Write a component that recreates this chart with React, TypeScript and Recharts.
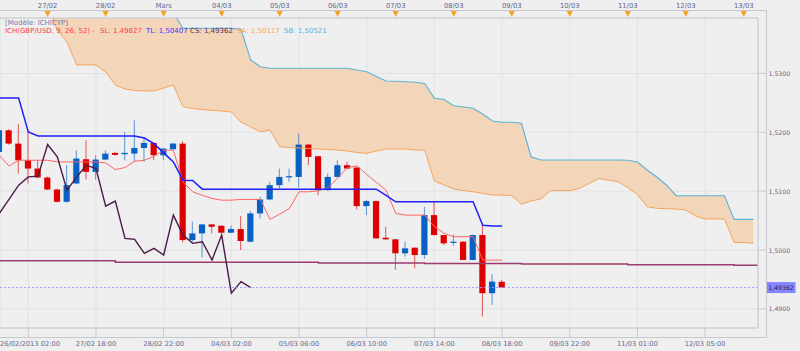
import React from 'react';
import {
  ComposedChart,
  XAxis,
  YAxis,
  CartesianGrid,
  Line,
  Area,
  Bar,
  ReferenceLine,
} from 'recharts';

const FONT = '"DejaVu Sans", Verdana, sans-serif';
const TEXT = '#66668c';
const FRAME = '#c6c8d0';
const GRID = '#e2e2e4';
const BG = '#efefef';
const RED = '#dc0000';
const BLUE = '#0862c4';

// ---- candles (4h bars, index 0..52) ----
const opens = [
  1.51667, 1.52034, 1.51808, 1.51525, 1.51384, 1.51232, 1.51028, 1.50819, 1.5113, 1.51542,
  1.51328, 1.51537, 1.5165, 1.51627, 1.51638, 1.51734, 1.51819, 1.5161, 1.51712, 1.51808,
  1.50169, 1.50282, 1.50435, 1.50412, 1.50294, 1.50356, 1.50141, 1.50622, 1.50859, 1.51102,
  1.51242, 1.51242, 1.51791, 1.51593, 1.51017, 1.51242, 1.51441, 1.51401, 1.50746, 1.50831,
  1.50209, 1.50181, 1.49944, 1.50039, 1.49915, 1.50593, 1.50254, 1.50124, 1.50141, 1.49831,
  1.50254, 1.49266, 1.4946,
];
const highs = [
  1.5206, 1.5205, 1.52147, 1.52034, 1.51525, 1.5125, 1.5104, 1.51441, 1.51695, 1.51864,
  1.5161, 1.51695, 1.5166, 1.52005, 1.52203, 1.51921, 1.5183, 1.5173, 1.5182, 1.51847,
  1.5048, 1.5044, 1.50445, 1.5042, 1.50412, 1.50576, 1.50661, 1.50904, 1.51158, 1.51384,
  1.51384, 1.51977, 1.518, 1.516, 1.513, 1.51525, 1.515, 1.5141, 1.5085, 1.5084,
  1.50395, 1.5019, 1.50141, 1.50045, 1.50734, 1.50819, 1.5026, 1.50266, 1.5015, 1.50266,
  1.50457, 1.4959, 1.49492,
];
const lows = [
  1.5163, 1.5179, 1.513, 1.5113, 1.5122, 1.5102, 1.5081, 1.50805, 1.51115, 1.51198,
  1.51198, 1.5153, 1.51605, 1.51525, 1.51497, 1.51497, 1.51525, 1.51525, 1.517, 1.5013,
  1.50141, 1.49876, 1.50282, 1.50285, 1.50285, 1.5, 1.5013, 1.50537, 1.5085, 1.51045,
  1.51158, 1.51062, 1.51441, 1.50932, 1.5101, 1.51235, 1.51375, 1.50689, 1.50593, 1.5019,
  1.50175, 1.49661, 1.49887, 1.49689, 1.4985, 1.5025, 1.50085, 1.50073, 1.49825, 1.49825,
  1.4887, 1.49068, 1.49355,
];
const closes = [
  1.52034, 1.51808, 1.51525, 1.51384, 1.51232, 1.51028, 1.50819, 1.51102, 1.51554, 1.51328,
  1.51537, 1.51638, 1.51616, 1.5165, 1.51734, 1.51819, 1.5161, 1.51723, 1.51808, 1.50169,
  1.50282, 1.50435, 1.50395, 1.50294, 1.50356, 1.50153, 1.50622, 1.50859, 1.51102, 1.51242,
  1.51254, 1.51791, 1.51582, 1.51017, 1.51242, 1.51441, 1.51384, 1.50746, 1.50831, 1.50198,
  1.50181, 1.49944, 1.50028, 1.49915, 1.50593, 1.50254, 1.50113, 1.50141, 1.49831, 1.50254,
  1.49266, 1.49463, 1.49362,
];

// ---- Ichimoku lines ----
const tenkanSL = [
  1.5161, 1.51424, 1.51525, 1.51525, 1.51525, 1.51525, 1.51497, 1.51497, 1.51497, 1.51497,
  1.51497, 1.5148, 1.51367, 1.51401, 1.51508, 1.51525, 1.51593, 1.51695, 1.51695, 1.51158,
  1.50989, 1.5093, 1.50876, 1.50847, 1.50847, 1.50859, 1.50859, 1.50859, 1.5052, 1.5061,
  1.50706, 1.50989, 1.50989, 1.51006, 1.5106, 1.5122, 1.514, 1.5143, 1.51283, 1.5115,
  1.51017, 1.50622, 1.50593, 1.50593, 1.50593, 1.504, 1.50282, 1.50226, 1.50226, 1.50226,
  1.49831, 1.49827, 1.49827,
];
const kijunTL = [
  1.52581, 1.52581, 1.52581, 1.52005, 1.51937, 1.51937, 1.51937, 1.51937, 1.51937, 1.51937,
  1.51937, 1.51937, 1.51937, 1.51937, 1.51937, 1.51903, 1.51808, 1.5165, 1.51497, 1.51186,
  1.5118, 1.51034, 1.51034, 1.51034, 1.51034, 1.51034, 1.51034, 1.51034, 1.51034, 1.51034,
  1.51034, 1.51034, 1.51034, 1.51034, 1.51034, 1.51034, 1.51034, 1.51034, 1.51034, 1.51034,
  1.5093, 1.50819, 1.50819, 1.50819, 1.50819, 1.50819, 1.50819, 1.50819, 1.50819, 1.50819,
  1.5042, 1.50407, 1.50407,
];
const chikouCS = [
  1.50622, 1.50859, 1.51102, 1.51242, 1.51254, 1.51791, 1.51582, 1.51017, 1.51242, 1.51441,
  1.51384, 1.50746, 1.50831, 1.50198, 1.50181, 1.49944, 1.50028, 1.49915, 1.50593, 1.50254,
  1.50113, 1.50141, 1.49831, 1.50254, 1.49266, 1.49463, 1.49362,
];
const senkouSA = [
  1.545, 1.545, 1.5445, 1.544, 1.543, 1.5413, 1.53738, 1.53534, 1.53144, 1.53144,
  1.53144, 1.53025, 1.52804, 1.52736, 1.5271, 1.52702, 1.52702, 1.52753, 1.52804, 1.52435,
  1.52404, 1.52387, 1.52374, 1.52362, 1.52345, 1.52175, 1.5209, 1.5201, 1.52039, 1.51755,
  1.51742, 1.51733, 1.51725, 1.51716, 1.51708, 1.51699, 1.51682, 1.51657, 1.51643, 1.51682,
  1.51716, 1.51716, 1.51716, 1.51699, 1.51699, 1.51172, 1.51105, 1.51037, 1.51011, 1.50991,
  1.5096, 1.50935, 1.50935, 1.50923, 1.50777, 1.50833, 1.50867, 1.51008, 1.51008, 1.51008,
  1.51048, 1.5113, 1.51215, 1.51189, 1.51161, 1.51062, 1.50943, 1.50736, 1.50709, 1.50702,
  1.50697, 1.5068, 1.50578, 1.50527, 1.50527, 1.50527, 1.50131, 1.50127, 1.50117,
];
const senkouSB = [
  1.546, 1.546, 1.546, 1.546, 1.546, 1.546, 1.546, 1.546, 1.546, 1.546,
  1.546, 1.546, 1.546, 1.546, 1.546, 1.546, 1.546, 1.544, 1.5403, 1.53767,
  1.53767, 1.53767, 1.53767, 1.53767, 1.53767, 1.5375, 1.53229, 1.53115, 1.53087, 1.53087,
  1.53087, 1.53087, 1.53087, 1.53087, 1.53087, 1.53087, 1.53087, 1.53059, 1.5303, 1.52948,
  1.52872, 1.52867, 1.52858, 1.5285, 1.5283, 1.52578, 1.52557, 1.52452, 1.5243, 1.52408,
  1.52311, 1.52192, 1.5217, 1.5217, 1.52153, 1.51585, 1.51529, 1.51529, 1.51529, 1.51529,
  1.51529, 1.51529, 1.51529, 1.51529, 1.51529, 1.51524, 1.51495, 1.51359, 1.5124, 1.51105,
  1.50923, 1.50923, 1.50923, 1.50923, 1.50923, 1.50923, 1.50521, 1.50521, 1.50521,
];
// long horizontal maroon level line
const levelLine = [
  1.49818, 1.49818, 1.49818, 1.49818, 1.49818, 1.49818, 1.49818, 1.49818, 1.49818, 1.49818,
  1.49818, 1.49818, 1.4979, 1.4979, 1.4979, 1.4979, 1.4979, 1.4979, 1.4979, 1.4979,
  1.4979, 1.4979, 1.4979, 1.4979, 1.4979, 1.4979, 1.4979, 1.4979, 1.4979, 1.4979,
  1.4979, 1.4979, 1.4979, 1.49779, 1.49779, 1.49779, 1.49779, 1.49779, 1.49779, 1.49779,
  1.49779, 1.49779, 1.49779, 1.49779, 1.49771, 1.49771, 1.49771, 1.49771, 1.49771, 1.49771,
  1.49771, 1.49771, 1.49771, 1.49771, 1.49762, 1.49762, 1.49762, 1.49762, 1.49762, 1.49762,
  1.49762, 1.49762, 1.49762, 1.49762, 1.49762, 1.49751, 1.49751, 1.49751, 1.49751, 1.49751,
  1.49751, 1.49751, 1.49751, 1.49751, 1.49751, 1.49751, 1.49741, 1.49741, 1.49741, 1.49741,
];

// ---- axes / labels ----
const bottomTickIdx = [3, 10, 17, 24, 31, 38, 45, 52, 59, 66, 73];
const bottomTickLabels = [
  '26/02/2013 02:00', '27/02 18:00', '28/02 22:00', '04/03 02:00', '05/03 06:00', '06/03 10:00',
  '07/03 14:00', '08/03 18:00', '09/03 22:00', '11/03 01:00', '12/03 05:00',
];
const topTickIdx = [5, 11, 17, 23, 29, 35, 41, 47, 53, 59, 65, 71, 77];
const topTickLabels = [
  '27/02', '28/02', 'Mars', '04/03', '05/03', '06/03', '07/03', '08/03', '09/03', '10/03', '11/03', '12/03', '13/03',
];
const priceTicks = [1.49, 1.5, 1.51, 1.52, 1.53];
const priceTickLabels = ['1,4900', '1,5000', '1,5100', '1,5200', '1,5300'];
const lastPrice = 1.49362;
const lastPriceLabel = '1,49362';

const legendTitle = '[Modèle: ICHICYP]';
const legendItems = [
  { text: 'ICH(GBP/USD, 9, 26, 52) -', color: '#ff3c3c', x: 5 },
  { text: 'SL: 1,49827', color: '#ff3c3c', x: 100 },
  { text: 'TL: 1,50407', color: '#3434ff', x: 146 },
  { text: 'CS: 1,49362', color: '#5a2856', x: 190 },
  { text: 'SA: 1,50117', color: '#f7a55e', x: 237 },
  { text: 'SB: 1,50521', color: '#52b2e0', x: 284 },
];

const X_DOMAIN: [number, number] = [0.072, 78.47];
const Y_DOMAIN: [number, number] = [1.48675, 1.53942];

const rows = levelLine.map((lv, i) => ({
  i,
  o: opens[i] ?? null,
  h: highs[i] ?? null,
  l: lows[i] ?? null,
  c: closes[i] ?? null,
  sl: tenkanSL[i] ?? null,
  tl: kijunTL[i] ?? null,
  cs: chikouCS[i] ?? null,
  sa: senkouSA[i] ?? null,
  sb: senkouSB[i] ?? null,
  lv,
}));

// ruler subdivisions (decoration only)
const ruler = (start: number, step: number, lo: number, hi: number) => {
  const out: number[] = [];
  for (let k = Math.ceil((lo - start) / step); start + k * step <= hi; k++) {
    out.push(+(start + k * step).toFixed(5));
  }
  return out;
};
const bottomMinor = ruler(3, 0.7, 0.1, 78.4);
const topMinor = ruler(5, 0.6, 0.1, 78.4);
const rightMinor = ruler(1.49, 0.001, 1.4869, 1.5393);

const candleRange = (d: any) => (d.h == null ? null : [d.l, d.h]);
const cloudRange = (d: any) => (d.sa == null ? null : [d.sa, d.sb]);

const Candle = (props: any) => {
  const { x, y, width, height, payload } = props;
  if (!payload || payload.o == null || x == null || y == null) return null;
  const top = Math.min(y, y + height);
  const bot = Math.max(y, y + height);
  const span = payload.h - payload.l || 1e-9;
  const px = (v: number) => top + ((payload.h - v) / span) * (bot - top);
  const cx = x + width / 2;
  const up = payload.c >= payload.o;
  const color = up ? BLUE : RED;
  const yo = px(payload.o);
  const yc = px(payload.c);
  const bTop = Math.min(yo, yc);
  const bH = Math.max(1.2, Math.abs(yo - yc));
  return (
    <g>
      <line x1={cx} x2={cx} y1={top} y2={bot} stroke={color} strokeOpacity={0.65} strokeWidth={1} />
      <rect x={cx - 3.1} y={bTop} width={6.2} height={bH} fill={color} />
    </g>
  );
};

const BottomTick = (p: any) => {
  const k = bottomTickIdx.indexOf(p.payload.value);
  if (k < 0) return null;
  const x = p.x;
  return (
    <g>
      <line x1={x} x2={x} y1={328} y2={337} stroke={FRAME} />
      <text
        x={k === 0 ? 0 : x}
        y={344}
        textAnchor={k === 0 ? 'start' : 'middle'}
        dominantBaseline="central"
        fontSize={6.7}
        fontFamily={FONT}
        fill={TEXT}
      >
        {bottomTickLabels[k]}
      </text>
    </g>
  );
};
const BottomMinorTick = (p: any) => (
  <line x1={p.x} x2={p.x} y1={334} y2={337} stroke={FRAME} />
);

const TopTick = (p: any) => {
  const k = topTickIdx.indexOf(p.payload.value);
  if (k < 0) return null;
  const x = p.x;
  return (
    <g>
      <text x={x} y={5.5} textAnchor="middle" dominantBaseline="central" fontSize={6.8} fontFamily={FONT} fill={TEXT}>
        {topTickLabels[k]}
      </text>
      <polygon points={`${x - 3},11 ${x + 3},11 ${x},17`} fill="#f7a41c" />
    </g>
  );
};
const TopMinorTick = (p: any) => (
  <line x1={p.x} x2={p.x} y1={11} y2={13.5} stroke={FRAME} />
);

const PriceTick = (p: any) => {
  const k = priceTicks.findIndex((v) => Math.abs(v - p.payload.value) < 1e-7);
  if (k < 0) return null;
  const y = p.y;
  return (
    <g>
      <line x1={758} x2={766} y1={y} y2={y} stroke={FRAME} />
      <text x={768.5} y={y} dominantBaseline="central" fontSize={6.2} fontFamily={FONT} fill={TEXT}>
        {priceTickLabels[k]}
      </text>
    </g>
  );
};
const RightMinorTick = (p: any) => (
  <line x1={762.5} x2={766} y1={p.y} y2={p.y} stroke={FRAME} />
);

const PriceTag = (props: any) => {
  const vb = props.viewBox || {};
  const y = vb.y ?? 0;
  const x = (vb.x ?? 0) + (vb.width ?? 0) + 9;
  return (
    <g>
      <rect x={x} y={y - 5.5} width={28.5} height={11} fill="#8686ff" />
      <text x={x + 1.2} y={y + 0.3} dominantBaseline="central" fontSize={6.2} fontFamily={FONT} fill="#1a1a66">
        {lastPriceLabel}
      </text>
    </g>
  );
};

// frame rulers + legend, drawn above the chart
const Overlay = () => (
  <svg
    width={800}
    height={351}
    style={{ position: 'absolute', left: 0, top: 0, pointerEvents: 'none' }}
  >
    <line x1={0} y1={10.5} x2={766.5} y2={10.5} stroke={FRAME} />
    <line x1={766.5} y1={10.5} x2={766.5} y2={337.5} stroke={FRAME} />
    <line x1={0} y1={337.5} x2={766.5} y2={337.5} stroke={FRAME} />
    <text x={5} y={22.6} dominantBaseline="central" fontSize={7} fontFamily={FONT} fill="#7676a4">
      {legendTitle}
    </text>
    {legendItems.map((it) => (
      <text key={it.text} x={it.x} y={30.8} dominantBaseline="central" fontSize={7} fontFamily={FONT} fill={it.color}>
        {it.text}
      </text>
    ))}
  </svg>
);

export default function App() {
  return (
    <div style={{ position: 'absolute', left: 0, top: 0, width: 800, height: 351, background: BG }}>
      <ComposedChart width={800} height={351} data={rows} margin={{ top: 0, right: 0, bottom: 0, left: 0 }}>
        <CartesianGrid stroke={GRID} />
        <XAxis
          dataKey="i"
          type="number"
          domain={X_DOMAIN}
          allowDataOverflow
          orientation="bottom"
          height={23}
          ticks={bottomTickIdx}
          interval={0}
          tick={BottomTick}
          tickLine={false}
          axisLine={{ stroke: FRAME }}
        />
        <XAxis
          xAxisId="bm"
          dataKey="i"
          type="number"
          domain={X_DOMAIN}
          allowDataOverflow
          orientation="bottom"
          height={0}
          ticks={bottomMinor}
          interval={0}
          tick={BottomMinorTick}
          tickLine={false}
          axisLine={false}
        />
        <XAxis
          xAxisId="top"
          dataKey="i"
          type="number"
          domain={X_DOMAIN}
          allowDataOverflow
          orientation="top"
          height={18}
          ticks={topTickIdx}
          interval={0}
          tick={TopTick}
          tickLine={false}
          axisLine={{ stroke: FRAME }}
        />
        <XAxis
          xAxisId="tm"
          dataKey="i"
          type="number"
          domain={X_DOMAIN}
          allowDataOverflow
          orientation="top"
          height={0}
          ticks={topMinor}
          interval={0}
          tick={TopMinorTick}
          tickLine={false}
          axisLine={false}
        />
        <YAxis
          type="number"
          domain={Y_DOMAIN}
          allowDataOverflow
          orientation="right"
          width={42}
          ticks={priceTicks}
          interval={0}
          tick={PriceTick}
          tickLine={false}
          axisLine={{ stroke: FRAME }}
        />
        <YAxis
          yAxisId="rm"
          type="number"
          domain={Y_DOMAIN}
          allowDataOverflow
          orientation="right"
          width={0}
          ticks={rightMinor}
          interval={0}
          tick={RightMinorTick}
          tickLine={false}
          axisLine={false}
        />
        <Area
          dataKey={cloudRange}
          type="linear"
          stroke="none"
          fill="#f3d6ba"
          fillOpacity={1}
          isAnimationActive={false}
        />
        <Line dataKey="sa" type="linear" stroke="#f5a35a" strokeWidth={1} dot={false} isAnimationActive={false} />
        <Line dataKey="sb" type="linear" stroke="#5ab2d4" strokeWidth={1.1} dot={false} isAnimationActive={false} />
        <Line dataKey="lv" type="stepAfter" stroke="#9a3c6e" strokeWidth={1.5} dot={false} isAnimationActive={false} />
        <Bar dataKey={candleRange} barSize={7} shape={Candle} isAnimationActive={false} />
        <Line dataKey="sl" type="linear" stroke="#ff6464" strokeWidth={1} dot={false} isAnimationActive={false} />
        <Line dataKey="tl" type="linear" stroke="#2020ff" strokeWidth={1.5} dot={false} isAnimationActive={false} />
        <Line dataKey="cs" type="linear" stroke="#4a1a48" strokeWidth={1.4} dot={false} isAnimationActive={false} />
        <ReferenceLine y={lastPrice} stroke="#9c9cff" strokeDasharray="2 2" label={PriceTag} />
      </ComposedChart>
      <Overlay />
    </div>
  );
}
